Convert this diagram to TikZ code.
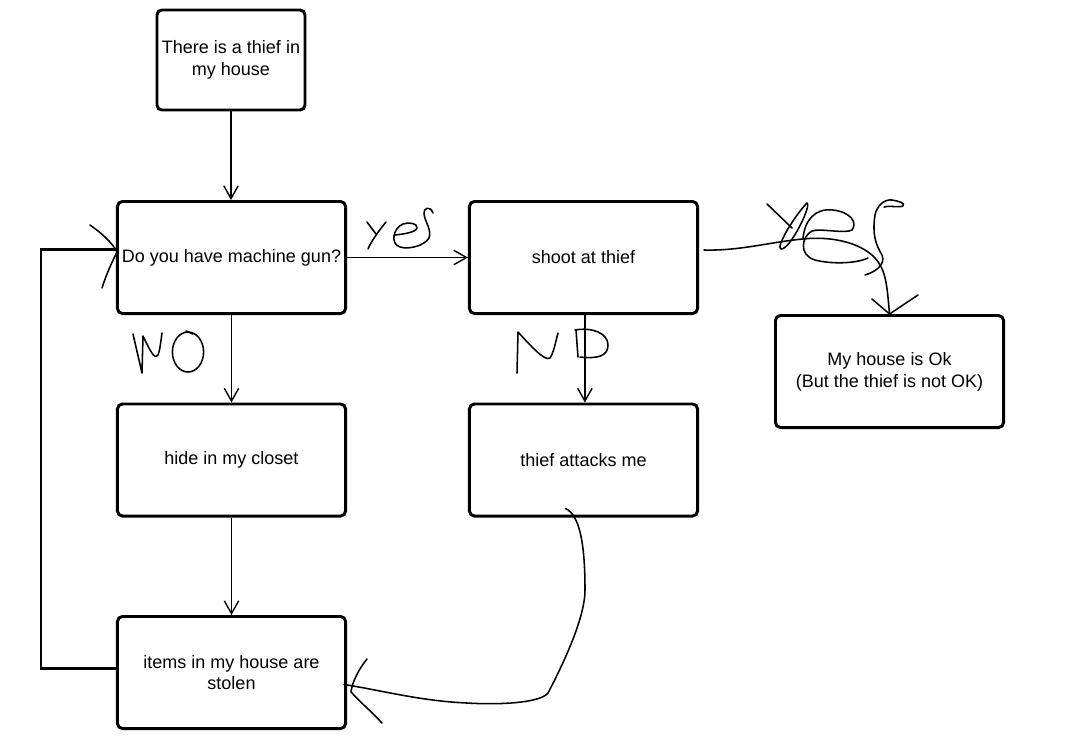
\documentclass[tikz,border=0pt]{standalone}
\usepackage{fontspec}
\setmainfont{Liberation Sans}
\usetikzlibrary{arrows.meta,calc}

\begin{document}
\begin{tikzpicture}[x=0.025cm,y=-0.025cm,
    box/.style={draw,line width=2.1pt,rounded corners=3.5pt,align=center,
      minimum width=5.7cm,minimum height=2.8cm,inner sep=2pt,font=\fontsize{12.8}{15.5}\selectfont},
    arr/.style={-{Straight Barb[length=3.2mm,width=3.6mm]},line width=1pt},
    hand/.style={line width=1.1pt,line cap=round,line join=round}]
    \useasboundingbox (0,0) rectangle (1066,739);
    \node[box,minimum width=3.7cm,minimum height=2.5cm] (thief) at (231,60) {There is a thief in\\my house};
    \node[box] (gun) at (231.5,257.5) {Do you have machine gun?};
    \node[box] (shoot) at (583.5,257.5) {shoot at thief};
    \node[box] (ok) at (889.5,371.5) {My house is Ok\\ (But the thief is not OK)};
    \node[box] (hide) at (231.5,460) {hide in my closet};
    \node[box] (attacks) at (583.5,460) {thief attacks me};
    \node[box] (stolen) at (231.5,672.5) {items in my house are\\stolen};

    \draw[arr] (thief.south) -- (thief.south |- gun.north);
    \draw[arr] (gun) -- (shoot);
    \draw[arr] (gun) -- (hide);
    \draw[arr] (hide) -- (stolen);
    \draw[arr] ([xshift=1pt]shoot.south) -- ([xshift=1pt]attacks.north);
    \draw[line width=2.1pt] ([yshift=3pt]stolen.west) -- ++(-75,0) |- ([yshift=5.5pt]gun.west);

    % scribbles
    \draw[hand] (90,225) .. controls (100,232) and (112,242) .. (117,252);
    \draw[hand] (102,288) .. controls (106,275) and (112,262) .. (117,252);
    \draw[hand] (367,222) -- (376,234);
    \draw[hand] (386,222) .. controls (378,232) and (372,240) .. (368,249);
    \draw[hand] (395,235) .. controls (405,234) and (416,232) .. (417,228) .. controls (418,223) and (408,222) .. (403,224)
      .. controls (393,228) and (390,244) .. (400,247) .. controls (410,250) and (425,245) .. (429,238)
      .. controls (432,230) and (425,222) .. (424,214) .. controls (423,208) and (430,205) .. (433,213);
    \draw[hand] (133,334) -- (142,373) -- (143,336) .. controls (150,350) and (154,360) .. (158,355)
      .. controls (160,350) and (161,340) .. (162,333);
    \draw[hand] (188,352) ellipse [x radius=0.39cm,y radius=0.5cm];
    \draw[hand] (186,331) -- (193,334);
    \draw[hand] (517,373) -- (518,332) .. controls (530,345) and (545,362) .. (550,358)
      .. controls (554,352) and (556,340) .. (558,333);
    \draw[hand] (576,330) -- (578,357);
    \draw[hand] (575,330) .. controls (592,327) and (608,333) .. (608,345) .. controls (608,356) and (598,359) .. (580,357);
    \draw[hand] (767,204) -- (792,228);
    \draw[hand] (807,203) .. controls (795,215) and (775,248) .. (781,249) .. controls (790,250) and (812,205) .. (807,203);
    \draw[hand] (803,238) .. controls (805,220) and (815,208) .. (833,210) .. controls (850,212) and (858,222) .. (852,230)
      .. controls (845,234) and (820,228) .. (812,231) .. controls (802,236) and (798,255) .. (815,260)
      .. controls (830,264) and (855,264) .. (868,258);
    \draw[hand] (865,275) .. controls (875,272) and (886,265) .. (882,255) .. controls (876,245) and (872,235) .. (875,215)
      .. controls (877,205) and (885,199) .. (892,200) .. controls (898,201) and (906,203) .. (903,206)
      .. controls (898,208) and (888,205) .. (884,207);
    \draw[hand] ($(shoot.east)+(5,-7.5)$) .. controls (740,251) and (770,242) .. (803,239)
      .. controls (830,236) and (860,242) .. (875,258) .. controls (886,270) and (887,285) .. (ok.north);
    \draw[hand] (872,299) -- (ok.north) -- (918,295);
    \draw[hand] ($(attacks.south)+(-18,-9)$) .. controls (580,515) and (585,545) .. (585,590)
      .. controls (585,620) and (560,670) .. (548,693) .. controls (540,703) and (500,705) .. (467,703)
      .. controls (420,701) and (380,690) .. ($(stolen.east)+(-3,12)$);
    \draw[hand] (367,659) .. controls (358,670) and (352,683) .. (351,692) .. controls (360,702) and (372,712) .. (382,723);
\end{tikzpicture}
\end{document}
